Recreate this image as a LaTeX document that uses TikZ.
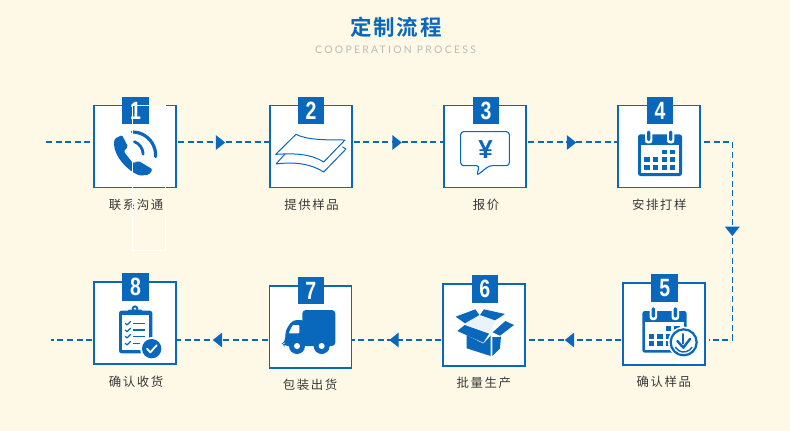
\documentclass[tikz,border=0pt]{standalone}
\usepackage{fontspec}
\setmainfont{Liberation Sans}
\newfontfamily\cjk[LetterSpace=13]{Noto Sans CJK SC}
\newfontfamily\cjktitle[LetterSpace=9]{Noto Sans CJK SC Bold}
\newfontfamily\latin[LetterSpace=22]{Lato}
\usetikzlibrary{calc}
\definecolor{bl}{HTML}{0A68BC}
\definecolor{bg}{HTML}{FEF9E7}
\tikzset{
 stepbox/.style={draw=bl,fill=white,line width=1.8pt,minimum width=82pt,minimum height=82pt,inner sep=0pt},
 tabbox/.style={fill=bl,text=white,minimum width=26.5pt,minimum height=27.5pt,inner sep=0pt,font=\fontsize{25}{25}\selectfont\bfseries},
 steplabel/.style={font=\cjk\fontsize{12.4}{14}\selectfont,text=black!78,inner sep=0pt},
 flow/.style={draw=bl,line width=1.5pt,dash pattern=on 6pt off 3.6pt},
 za/.style={shift={(40,90)},x=.33333pt,y=-.33333pt},
 zb/.style={shift={(420,90)},x=.33333pt,y=-.33333pt},
 zc/.style={shift={(40,265)},x=.33333pt,y=-.33333pt},
 zd/.style={shift={(420,265)},x=.33333pt,y=-.33333pt},
 icon/.style={fill=bl,draw=none},
 iconline/.style={draw=bl,line join=round,line cap=round,fill=none},
}
\newcommand\dg[1]{\scalebox{.78}[1]{#1}}
\newcommand\tipR[1]{\fill[bl] ([shift={(-4.7,-7.5)}]#1) -- ([shift={(4.7,0)}]#1) -- ([shift={(-4.7,7.5)}]#1) -- cycle;}
\newcommand\tipL[1]{\fill[bl] ([shift={(4.7,-7.5)}]#1) -- ([shift={(-4.7,0)}]#1) -- ([shift={(4.7,7.5)}]#1) -- cycle;}
\newcommand\tipD[1]{\fill[bl] ([shift={(-7.5,-4.7)}]#1) -- ([shift={(7.5,-4.7)}]#1) -- ([shift={(0,4.7)}]#1) -- cycle;}
\begin{document}
\begin{tikzpicture}[x=1pt,y=-1pt]
\useasboundingbox (0,0) rectangle (790,431);
\fill[bg] (0,0) rectangle (790,431);
% titles
\node[text=bl,inner sep=0pt,font=\cjktitle\fontsize{21.5}{24}\selectfont] (title) at (396,27) {定制流程};
\node[text=black!27,inner sep=0pt,font=\latin\fontsize{10.4}{12}\selectfont] (sub) at (395.5,50) {COOPERATION PROCESS};
% routing coordinates
\coordinate (row1) at (0,142);
\coordinate (row2) at (0,340);
\coordinate (startA) at (46,142);
\coordinate (corner1) at (732.3,142);
\coordinate (corner2) at (732.3,340);
\coordinate (endA) at (51,340);
\coordinate (t12) at (220.5,142.5);
\coordinate (t23) at (397,142.5);
\coordinate (t34) at (571.5,142.5);
\coordinate (t45) at (732.3,231.3);
\coordinate (t56) at (569.5,340);
\coordinate (t67) at (394,340);
\coordinate (t78) at (217.5,340);
% boxes
\node[stepbox] (b1) at (135,146.5) {};
\node[stepbox] (b2) at (310.7,146.5) {};
\node[stepbox] (b3) at (485,146.5) {};
\node[stepbox] (b4) at (659,146.5) {};
\node[stepbox] (b5) at (664,324) {};
\node[stepbox] (b6) at (484,325) {};
\node[stepbox] (b7) at (310.5,326.7) {};
\node[stepbox] (b8) at (135,323.3) {};
% connectors
\draw[flow] (startA) -- (b1.west |- row1);
\draw[flow] ([xshift=1pt]b1.east |- row1) -- (b2.west |- row1);
\draw[flow] ([xshift=1pt]b2.east |- row1) -- (b3.west |- row1);
\draw[flow] ([xshift=1pt]b3.east |- row1) -- (b4.west |- row1);
\draw[flow] ([xshift=3pt]b4.east |- row1) -- (corner1) -- (corner2) -- ([xshift=3pt]b5.east |- row2);
\draw[flow] ([xshift=-1pt]b5.west |- row2) -- (b6.east |- row2);
\draw[flow] ([xshift=-1pt]b6.west |- row2) -- (b7.east |- row2);
\draw[flow] ([xshift=-1pt]b7.west |- row2) -- (b8.east |- row2);
\draw[flow] ([xshift=-1pt]b8.west |- row2) -- (endA);
\tipR{t12}\tipR{t23}\tipR{t34}\tipD{t45}\tipL{t56}\tipL{t67}\tipL{t78}
% number tabs
\node[tabbox] (n1) at (135.5,110.5) {\dg{1}};
\node[tabbox] (n2) at (311,110.5) {\dg{2}};
\node[tabbox] (n3) at (486,110.5) {\dg{3}};
\node[tabbox] (n4) at (660,110.5) {\dg{4}};
\node[tabbox] (n5) at (664.7,287.8) {\dg{5}};
\node[tabbox] (n6) at (484.9,289) {\dg{6}};
\node[tabbox] (n7) at (310.9,290.4) {\dg{7}};
\node[tabbox] (n8) at (135.5,287.2) {\dg{8}};
% labels
\node[steplabel] (l1) at (136,205) {联系沟通};
\node[steplabel] (l2) at (311.5,205) {提供样品};
\node[steplabel] (l3) at (486,205) {报价};
\node[steplabel] (l4) at (659.3,205) {安排打样};
\node[steplabel] (l5) at (663.8,382) {确认样品};
\node[steplabel] (l6) at (483.8,382.7) {批量生产};
\node[steplabel] (l7) at (310,385) {包装出货};
\node[steplabel] (l8) at (136,381.7) {确认收货};
% phone
\begin{scope}[za]
\fill[icon,rounded corners=1.5pt] (224,146) -- (246,135) -- (264,170) -- (251,184) -- (279,220) -- (296,213) -- (338,238) -- (327,254) -- (300,257) .. controls (262,242) and (224,200) .. (222,160) -- cycle;
\draw[bl,line width=3.2pt,line cap=round] (277,126) arc[start angle=-90,end angle=3,radius=70];
\draw[bl,line width=2.8pt,line cap=round] (283,155) arc[start angle=-70,end angle=0,radius=40];
\end{scope}
% sheets
\begin{scope}[za]
\draw[iconline,line width=1pt] (768,133) .. controls (800,150) and (860,150) .. (915,150) -- (851,216) .. controls (810,190) and (760,190) .. (707,193) -- cycle;
\draw[iconline,line width=1pt] (735,192) -- (708,222) .. controls (760,215) and (810,220) .. (851,246) -- (918,177) -- (908,171);
\end{scope}
% bubble
\begin{scope}[zb]
\draw[iconline,line width=1.1pt,rounded corners=3pt] (122,125) -- (268,125) -- (268,227) -- (208,227) -- (170,257) -- (178,227) -- (122,227) -- cycle;
\node[text=bl,inner sep=0pt,font=\fontsize{26}{26}\selectfont\bfseries] (yen) at (197,180) {¥};
\end{scope}
% calendar
\begin{scope}[zb]
\fill[icon,rounded corners=2.5pt] (654,133) rectangle (786,258);
\fill[white] (662,165) rectangle (778,250);
\foreach \cx in {686,752}{
 \fill[white,rounded corners=2.5pt] (\cx-11,120) rectangle (\cx+11,160);
 \fill[bl,rounded corners=2pt] (\cx-5,122) rectangle (\cx+5,153);
}
\foreach \cx in {725,750}\fill[bl] (\cx,179) rectangle ++(16,14);
\foreach \ry in {200,224}\foreach \cx in {673,699,725,750}\fill[bl] (\cx,\ry) rectangle ++(16,16);
\end{scope}
% calendar with check
\begin{scope}[zd]
\fill[icon,rounded corners=2.5pt] (667,138) rectangle (800,263);
\fill[white] (675,170) rectangle (792,255);
\foreach \cx in {700,766}{
 \fill[white,rounded corners=2.5pt] (\cx-11,125) rectangle (\cx+11,165);
 \fill[bl,rounded corners=2pt] (\cx-5,127) rectangle (\cx+5,158);
}
\foreach \cx in {738,763}\fill[bl] (\cx,184) rectangle ++(16,14);
\foreach \ry in {207,229}\foreach \cx in {686,712,738,763}\fill[bl] (\cx,\ry) rectangle ++(16,15);
\fill[white] (791,232) circle[radius=47];
\draw[bl,line width=2.2pt] (791,232) circle[radius=39];
\draw[bl,line width=1.4pt] ([shift={(30:29)}]791,232) arc[start angle=30,end angle=150,radius=29];
\draw[iconline,line width=2.4pt] (772,228) -- (790,248) -- (810,222);
\draw[iconline,line width=2pt] (790,207) -- (790,236);
\end{scope}
% open carton
\begin{scope}[zd]
\fill[bl!8] (135,178) -- (178,150) -- (225,167) -- (212,207) -- cycle;
\fill[icon] (107,155) -- (166,133) -- (178,150) -- (135,175) -- cycle;
\fill[icon] (192,133) -- (255,147) -- (225,166) -- (180,150) -- cycle;
\fill[icon] (112,198) -- (134,180) -- (207,206) -- (190,233) -- cycle;
\fill[icon] (218,202) -- (256,168) -- (282,180) -- (240,212) -- cycle;
\fill[icon] (140,210) -- (190,236) -- (212,212) -- (212,273) -- (140,250) -- cycle;
\fill[icon] (217,216) -- (240,216) -- (243,214) -- (240,250) -- (217,273) -- cycle;
\end{scope}
% truck
\begin{scope}[zc]
\fill[icon,rounded corners=3.5pt] (787,135) rectangle (886,243);
\fill[icon,rounded corners=4pt] (795,165) -- (758,165) -- (737,195) -- (735,232) -- (727,236) -- (732,243) -- (800,243) -- cycle;
\fill[white,rounded corners=1pt] (758,180) -- (778,180) -- (778,205) -- (746,205) -- cycle;
\foreach \cx in {771,845}{
 \fill[bl] (\cx,243) circle[radius=24];
 \fill[white] (\cx,243) circle[radius=9];
}
\end{scope}
% clipboard
\begin{scope}[zc]
\fill[icon,rounded corners=2.5pt] (237,137) rectangle (337,265);
\fill[white] (245,151) rectangle (328,256);
\fill[bl] (285,131) circle[radius=10];
\fill[white] (285,131) circle[radius=4];
\fill[icon,rounded corners=1pt] (264,134) rectangle (306,150);
\foreach \ry in {175,195,214,235}{
 \draw[iconline,line width=1.3pt] (256,\ry) -- (261,\ry+5) -- (271,\ry-5);
}
\foreach \ry in {175,195,214}\draw[bl,line width=1.6pt] (279,\ry) -- (316,\ry);
\draw[bl,line width=1.6pt] (279,235) -- (300,235);
\fill[white] (335,251) circle[radius=35];
\fill[bl] (335,251) circle[radius=29];
\draw[white,line width=1.8pt,line cap=round,line join=round] (321,251) -- (331,262) -- (350,241);
\end{scope}
% thin white frame that lies over step 1
\draw[white,line width=.8pt] (132.5,105) rectangle (165,250.5);
\end{tikzpicture}
\end{document}
